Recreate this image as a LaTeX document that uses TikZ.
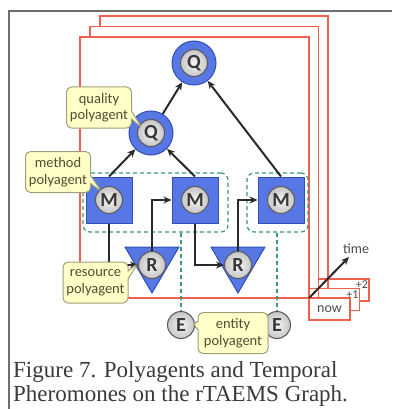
\documentclass[tikz,border=0pt]{standalone}
\usepackage{fontspec}
\setmainfont{Liberation Serif}
\newfontfamily\notefont{Carlito}
\usetikzlibrary{arrows.meta,shapes.callouts}

\definecolor{planered}{HTML}{F0604F}
\definecolor{nodeblue}{HTML}{5677E4}
\definecolor{edgeblue}{HTML}{3050B8}
\definecolor{grpgreen}{HTML}{3C9A78}
\definecolor{noteyellow}{HTML}{FFFFC8}
\definecolor{noteedge}{HTML}{A0A078}
\definecolor{notetext}{HTML}{4E4E32}
\definecolor{arrowgray}{HTML}{2A2A2A}
\definecolor{framegray}{HTML}{6E6E6E}
\definecolor{captext}{HTML}{3A3A3A}

\tikzset{
  plane/.style={draw=planered, fill=white, line width=1.1pt},
  tablabel/.style={font=\notefont\fontsize{14}{14}\selectfont, text=black!70, inner sep=1pt},
  grp/.style={draw=grpgreen, dashed, dash pattern=on 4pt off 3pt, line width=1.2pt, rounded corners=7pt, inner sep=0pt},
  link/.style={draw=grpgreen, dash pattern=on 4pt off 3pt, line width=1.2pt},
  arr/.style={-{Stealth[length=8pt,width=7pt]}, line width=2pt, draw=arrowgray},
  qring/.style={circle, fill=nodeblue, draw=edgeblue, line width=1pt, minimum size=44pt, inner sep=0pt},
  msq/.style={rectangle, fill=nodeblue, draw=edgeblue, line width=1pt, minimum width=46pt, minimum height=46pt, inner sep=0pt},
  rtri/.style={fill=nodeblue, draw=edgeblue, line width=1pt},
  blob/.style={circle, draw=black!65, line width=1pt, inner color=gray!8, outer color=gray!45, minimum size=27pt, inner sep=0pt, font=\notefont\bfseries\fontsize{20}{20}\selectfont, text=black!78},
  note/.style={rectangle callout, rounded corners=5pt, fill=noteyellow, draw=noteedge, line width=1pt, text=notetext, font=\notefont\fontsize{14.5}{16.5}\selectfont, align=center, inner sep=2pt, minimum width=65pt, minimum height=41pt, callout pointer width=8pt},
  caption/.style={font=\fontsize{23}{25}\selectfont, text=captext, inner sep=0pt, anchor=base west}
}

\begin{document}
\begin{tikzpicture}[x=1pt,y=-1pt]
  \useasboundingbox (0,0) rectangle (392,409);
  \draw[framegray, line width=2pt] (9,409) -- (9,11) -- (392,11);

  \foreach \k in {2,1} {
    \draw[plane] (80+10*\k,37-10.5*\k) rectangle (309+9.5*\k,298-9.5*\k);
    \draw[plane] (309+9.5*\k,298-9.5*\k) rectangle ++(41,22);
    \node[tablabel, font=\notefont\fontsize{12}{12}\selectfont] (tab\k) at (343+9.5*\k,304-9.5*\k) {+\k};
  }
  \draw[plane] (80,37) rectangle (309,298);
  \draw[plane] (309,298) rectangle ++(41,22);
  \node[tablabel] (tab0) at (329.5,309) {now};
  \coordinate (t0) at (309,298);
  \coordinate (t1) at (349,257);
  \draw[arr] (t0) -- (t1);
  \node[tablabel] (tlab) at (356,249) {time};

  \node[grp, minimum width=145pt, minimum height=59pt] (ga) at (155.5,202.5) {};
  \node[grp, minimum width=61pt, minimum height=59pt] (gb) at (277.5,202.5) {};

  \node[qring] (qt) at (194,63) {};
  \node[blob] (qti) at (qt) {Q};
  \node[qring] (qm) at (151,133) {};
  \node[blob] (qmi) at (qm) {Q};
  \node[msq] (ml) at (109,200) {};
  \node[blob] (mli) at (ml) {M};
  \node[msq] (mm) at (195,200) {};
  \node[blob] (mmi) at (mm) {M};
  \node[msq] (mr) at (281,200) {};
  \node[blob] (mri) at (mr) {M};
  \foreach \x/\n in {152/rl,238/rr} {
    \draw[rtri] (\x-27,247) -- (\x+27,247) -- (\x,293) -- cycle;
    \node[blob] (\n) at (\x,265) {R};
  }
  \node[blob] (el) at (181,325) {E};
  \node[blob] (er) at (277,325) {E};

  \draw[link] (ga.south -| el) -- (el);
  \draw[link] (gb.south -| er) -- (er);

  \draw[arr] (qm) -- (qt);
  \draw[arr] (ml.north) -- (qm);
  \draw[arr] (mm.north) -- (qm);
  \draw[arr] (mr.north) -- (qt);
  \draw[arr] (ml.south) |- (rl);
  \draw[arr] (mm.south) |- (rr);
  \draw[arr] (rl.north) |- (mm);
  \draw[arr] (rr.north) |- (mr);

  \coordinate (qptr) at (142,128);
  \coordinate (mptr) at (102,192);
  \coordinate (rptr) at (138,263);
  \coordinate (eptr) at (192,323);
  \node[note, callout absolute pointer={(qptr)}] (nq) at (99,107.5) {quality\\polyagent};
  \node[note, callout absolute pointer={(mptr)}] (nm) at (58,172) {method\\polyagent};
  \node[note, callout absolute pointer={(rptr)}] (nr) at (95.5,282.5) {resource\\polyagent};
  \node[note, minimum width=70pt, callout absolute pointer={(eptr)}] (ne) at (233,333) {entity\\polyagent};

  \node[caption] (cap1) at (13,377) {Figure 7. Polyagents and Temporal};
  \node[caption] (cap2) at (13,401) {Pheromones on the rTAEMS Graph.};
\end{tikzpicture}
\end{document}
